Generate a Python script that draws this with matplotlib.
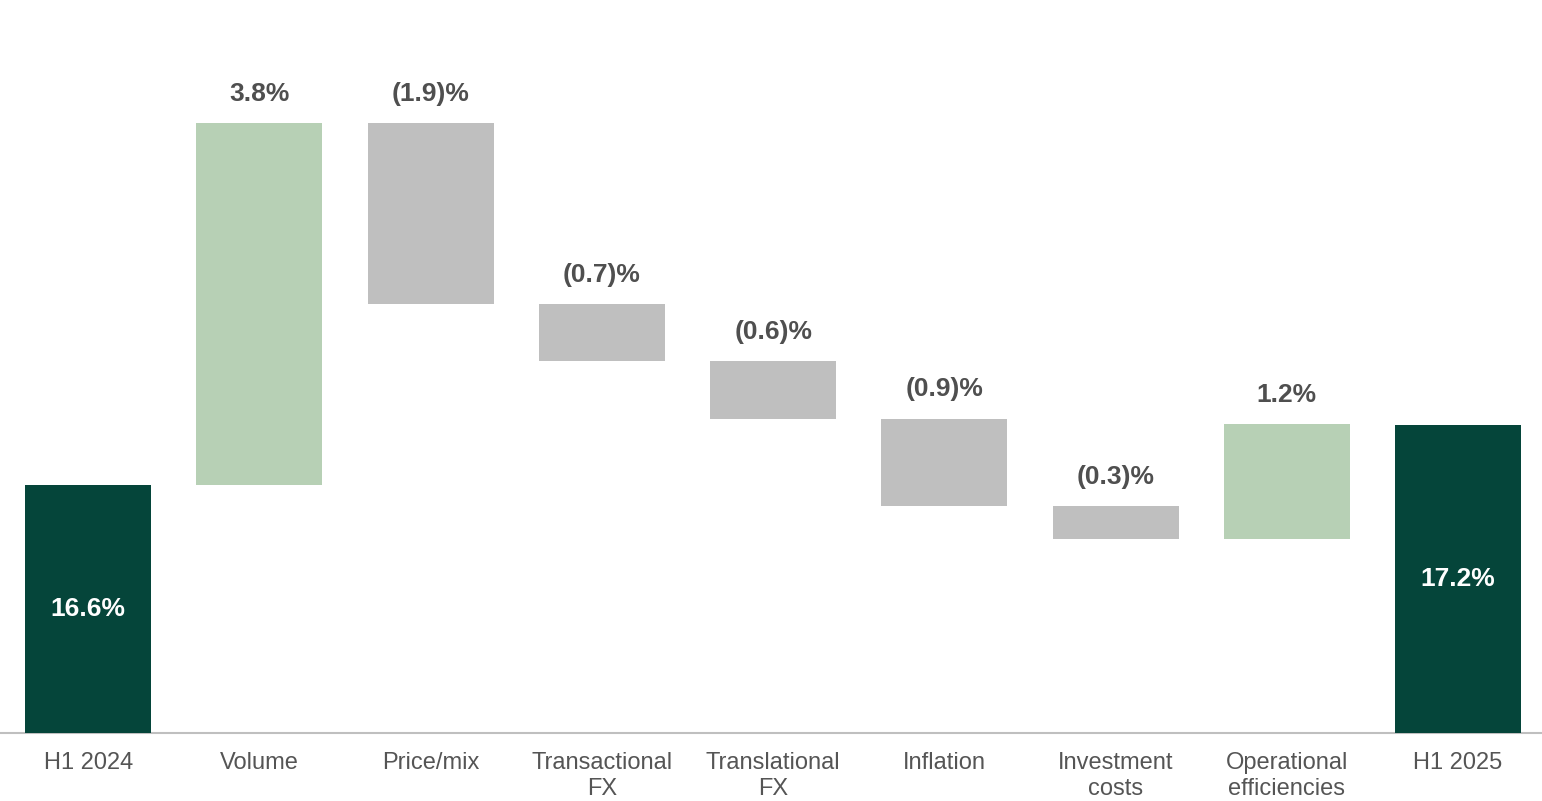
import matplotlib.pyplot as plt
import numpy as np

plt.rcParams['font.family'] = ['Liberation Sans', 'DejaVu Sans']

categories = ['H1 2024', 'Volume', 'Price/mix', 'Transactional\nFX', 'Translational\nFX',
              'Inflation', 'Investment\ncosts', 'Operational\nefficiencies', 'H1 2025']
start = 16.6
# bar sizes (labels are rounded)
deltas = [3.8, -1.9, -0.6, -0.6, -0.92, -0.34, 1.2]
delta_labels = ['3.8%', '(1.9)%', '(0.7)%', '(0.6)%', '(0.9)%', '(0.3)%', '1.2%']
end = 17.23

dark = '#05453A'
up_col = '#B7D0B5'
down_col = '#BFBFBF'
txt_col = '#4F4F4F'

fig = plt.figure(figsize=(15.42, 8.01), dpi=100)
ax = fig.add_axes([0, 68 / 801, 1, 733 / 801])

x = np.arange(len(categories))
w = 0.736

# first total bar
ax.bar(x[0], start, width=w, color=dark, zorder=3)
ax.text(x[0], (14 + start) / 2, '16.6%', ha='center', va='center',
        color='white', fontsize=19, fontweight='bold', zorder=4)

level = start
for i, (d, lab) in enumerate(zip(deltas, delta_labels), start=1):
    bottom = level if d > 0 else level + d
    ax.bar(x[i], abs(d), bottom=bottom, width=w,
           color=up_col if d > 0 else down_col, zorder=3)
    top = bottom + abs(d)
    ax.annotate(lab, (x[i], top), xytext=(0, 21), textcoords='offset points',
                ha='center', va='center', color=txt_col, fontsize=19, fontweight='bold')
    level += d

ax.bar(x[-1], end, width=w, color=dark, zorder=3)
ax.text(x[-1], (14 + end) / 2, '17.2%', ha='center', va='center',
        color='white', fontsize=19, fontweight='bold', zorder=4)

ax.set_xlim(-0.515, 8.49)
ax.set_ylim(14, 14 + 733 / 95.26)

for s in ['top', 'right', 'left']:
    ax.spines[s].set_visible(False)
ax.spines['bottom'].set_color('#BFBFBF')
ax.spines['bottom'].set_linewidth(1.5)
ax.spines['bottom'].set_zorder(2)

ax.set_yticks([])
ax.set_xticks(x)
ax.set_xticklabels(categories, fontsize=17, color='#555555', linespacing=1.22)
ax.tick_params(axis='x', length=0, pad=14)

fig.savefig('out.png', dpi=100)
